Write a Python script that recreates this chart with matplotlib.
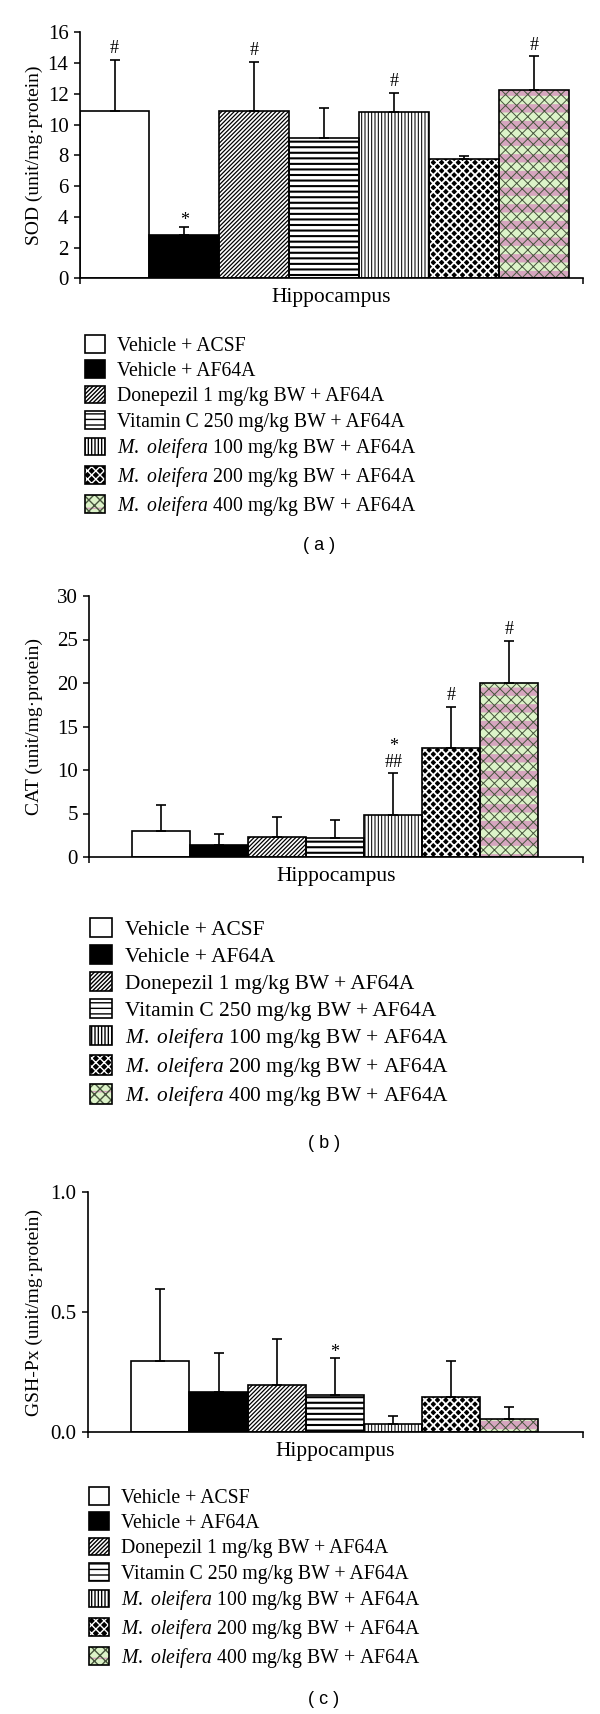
import matplotlib
matplotlib.use("Agg")
import matplotlib.pyplot as plt
import numpy as np

# ===========================
# DATA
# ===========================

GROUPS = [
    "Vehicle + ACSF",
    "Vehicle + AF64A",
    "Donepezil 1 mg/kg BW + AF64A",
    "Vitamin C 250 mg/kg BW + AF64A",
    r"$\mathit{M.\ oleifera}$ 100 mg/kg BW + AF64A",
    r"$\mathit{M.\ oleifera}$ 200 mg/kg BW + AF64A",
    r"$\mathit{M.\ oleifera}$ 400 mg/kg BW + AF64A",
]

sod_mean = [10.85, 2.80, 10.85, 9.15, 10.83, 7.74, 12.26]
sod_err = [3.34, 0.56, 3.25, 1.91, 1.25, 0.22, 2.17]
sod_marks = ["#", "*", "#", "", "#", "", "#"]

cat_mean = [2.99, 1.34, 2.34, 2.15, 4.79, 12.49, 19.96]
cat_err = [2.99, 1.30, 2.30, 2.10, 4.83, 4.79, 4.87]
cat_marks = ["", "", "", "", "*\n##", "#", "#"]

gsh_mean = [0.299, 0.167, 0.196, 0.157, 0.035, 0.149, 0.054]
gsh_err = [0.300, 0.165, 0.194, 0.153, 0.033, 0.150, 0.052]
gsh_marks = ["", "", "", "*", "", "", ""]

# ===========================
# STYLE
# ===========================

W, H = 600, 1714
plt.rcParams["font.family"] = ["Liberation Serif", "DejaVu Serif"]
plt.rcParams["mathtext.fontset"] = "custom"
plt.rcParams["mathtext.rm"] = "Liberation Serif"
plt.rcParams["mathtext.it"] = "Liberation Serif:italic"

# per bar: face colour, then (hatch, hatch colour, hatch linewidth) layers
BAR_STYLES = [
    ("white", []),
    ("black", []),
    ("white", [("////////", "black", 0.9)]),
    ("white", [("---", "black", 1.5)]),
    ("white", [("|||||", "black", 0.75)]),
    ("black", [("xxxx", "white", 1.3)]),
    ("#dcf3c8", [("-", "#d6a6bf", 6.0), ("xxx", "#46543c", 0.7)]),
]


def hatched_bar(ax, x, h, face, layers, width):
    parts = []
    parts.append(ax.bar(x, h, width=width, color=face, linewidth=0, zorder=2)[0])
    for hatch, hcol, hlw in layers:
        with plt.rc_context({"hatch.linewidth": hlw}):
            p = ax.bar(x, h, width=width, fill=False, edgecolor=hcol,
                       linewidth=0, hatch=hatch, zorder=2)[0]
        if hasattr(p, "set_hatch_linewidth"):
            p.set_hatch_linewidth(hlw)
        parts.append(p)
    parts.append(ax.bar(x, h, width=width, fill=False, edgecolor="black",
                        linewidth=1.2, zorder=3)[0])
    return tuple(parts)


def draw_panel(box, xlim, means, errs, marks, ylim, yticks, yfmt, ylabel,
               leg_anchor, leg_size, tag, tag_y):
    left, top, right, bottom = box
    ax = fig.add_axes([left / W, 1 - bottom / H, (right - left) / W, (bottom - top) / H])
    x = np.arange(1, len(means) + 1)
    handles = []
    for i in range(len(means)):
        face, layers = BAR_STYLES[i]
        handles.append(hatched_bar(ax, x[i], means[i], face, layers, 1.0))

    ax.errorbar(x, means, yerr=[np.zeros(len(errs)), errs], fmt="none",
                ecolor="black", elinewidth=1.2, capsize=3.5, capthick=1.2, zorder=4)
    for xi, m, e, mk in zip(x, means, errs, marks):
        if mk:
            off = -2 if mk == "*" else 2
            ax.annotate(mk, (xi, m + e), xytext=(0, off), textcoords="offset points",
                        ha="center", va="bottom", fontsize=13, linespacing=0.85)

    ax.set_xlim(*xlim)
    ax.set_ylim(*ylim)
    ax.set_yticks(yticks)
    ax.set_yticklabels([yfmt.format(t) for t in yticks], fontsize=15)
    ax.set_xticks(list(xlim))
    ax.set_xticklabels([])
    ax.tick_params(direction="out", length=4, width=1.1, pad=4)
    for s in ["top", "right"]:
        ax.spines[s].set_visible(False)
    for s in ["left", "bottom"]:
        ax.spines[s].set_linewidth(1.2)

    ax.set_ylabel(ylabel, fontsize=14)
    ax.yaxis.set_label_coords(43 / W, 1 - (top + bottom) / 2 / H, transform=fig.transFigure)
    ax.set_xlabel("Hippocampus", fontsize=15.5)
    ax.xaxis.set_label_coords((left + right) / 2 / W, 1 - (bottom + 10) / H,
                              transform=fig.transFigure)

    lx, ly = leg_anchor
    fig.legend(handles, GROUPS, loc="upper left",
               bbox_to_anchor=(lx / W, 1 - ly / H), frameon=False,
               fontsize=leg_size, handlelength=1.05, handleheight=1.0,
               handletextpad=0.6, labelspacing=0.24, borderpad=0, borderaxespad=0)

    fig.text((left + right) / 2 / W - 12 / W, 1 - tag_y / H, tag, ha="center", va="center",
             fontsize=13, family="Liberation Sans")
    return ax


fig = plt.figure(figsize=(W / 100, H / 100), dpi=100)

draw_panel((79.6, 32.3, 582.7, 278.3), (0.5, 7.7), sod_mean, sod_err, sod_marks,
           (0, 16), list(range(0, 17, 2)), "{:d}", "SOD (unit/mg\u00b7protein)",
           (84.6, 335), 14.2, "( a )", 546)

draw_panel((89.2, 596, 583, 857), (-0.24, 8.27), cat_mean, cat_err, cat_marks,
           (0, 30), list(range(0, 31, 5)), "{:d}", "CAT (unit/mg\u00b7protein)",
           (89.6, 918), 15.4, "( b )", 1143)

draw_panel((87.7, 1192.3, 583, 1432.3), (-0.25, 8.27), gsh_mean, gsh_err, gsh_marks,
           (0, 1.0), [0.0, 0.5, 1.0], "{:.1f}", "GSH-Px (unit/mg\u00b7protein)",
           (88.5, 1487), 14.2, "( c )", 1700)

fig.savefig("out.png", dpi=100)
